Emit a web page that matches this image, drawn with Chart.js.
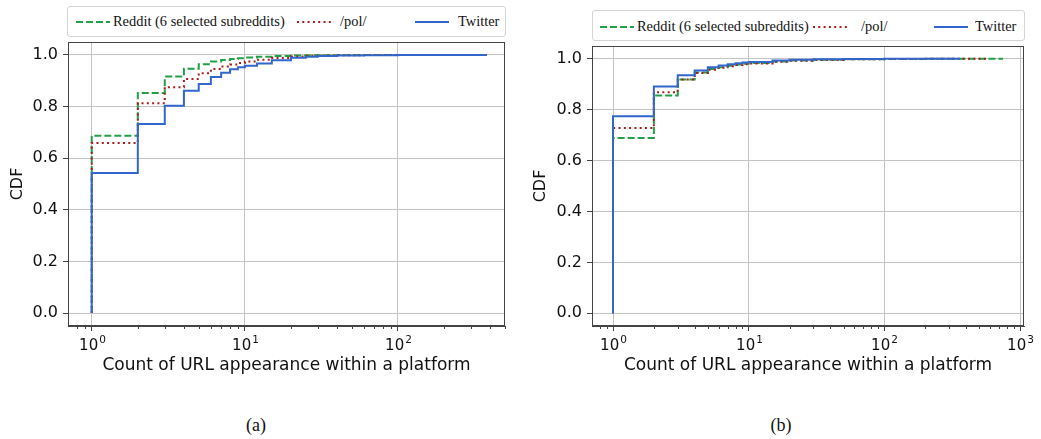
<!DOCTYPE html>
<html>
<head>
<meta charset="utf-8">
<script src="https://cdn.jsdelivr.net/npm/chart.js@4.4.1/dist/chart.umd.min.js"></script>
<style>
  body { margin: 0; background: #fff; width: 1041px; height: 439px; position: relative; overflow: hidden; }
  canvas { position: absolute; top: 40px; }
  .legend { position: absolute; border: 1px solid #d4d4d4; border-radius: 3px; box-sizing: border-box; background: #fff; }
  .lg-text { position: absolute; font-family: "Liberation Serif", serif; font-size: 15.5px; color: #111; white-space: nowrap; line-height: 1; transform: scaleX(0.93); transform-origin: left center; }
  .lg-handle { position: absolute; }
  .caption { position: absolute; top: 415px; font-family: "Liberation Serif", serif; font-size: 18px; color: #111; transform: translateX(-50%); }
</style>
</head>
<body>
<canvas id="chartA" width="520" height="340" style="left:0px"></canvas>
<canvas id="chartB" width="520" height="340" style="left:520px"></canvas>
<div class="caption" style="left:256px">(a)</div>
<div class="caption" style="left:781px">(b)</div>
<script>
// series shared by both panels
const seriesNames = ['Reddit (6 selected subreddits)', '/pol/', 'Twitter'];
const seriesColors = ['#22a045', '#aa1c1c', '#3366cc'];
const seriesDash = [[7, 3], [2, 3.3], []];

const yTicks = [0, 0.2, 0.4, 0.6, 0.8, 1.0];
const xTitle = 'Count of URL appearance within a platform';

// panel (a)
const countsA = [1, 1, 2, 3, 4, 5, 6, 7, 8, 9, 10, 12, 15, 20, 25, 30, 40, 60, 100, 200, 380];
const redditA = [0, 0.687, 0.852, 0.916, 0.946, 0.964, 0.974, 0.980, 0.984, 0.987, 0.990, 0.993, 0.996, 0.998, 0.999, 0.999, 1, 1, 1, 1, 1];
const polA = [0, 0.659, 0.813, 0.875, 0.907, 0.929, 0.945, 0.955, 0.963, 0.969, 0.974, 0.981, 0.988, 0.994, 0.997, 0.998, 0.999, 1, 1, 1, 1];
const twitterA = [0, 0.543, 0.732, 0.803, 0.861, 0.887, 0.914, 0.931, 0.944, 0.952, 0.958, 0.967, 0.979, 0.989, 0.993, 0.996, 0.998, 0.999, 1, 1, 1];

// panel (b)
const countsB = [1, 1, 2, 3, 4, 5, 6, 7, 8, 9, 10, 15, 20, 30, 50, 100, 200, 360, 575, 750];
const redditB = [0, 0.689, 0.856, 0.918, 0.946, 0.960, 0.967, 0.972, 0.977, 0.980, 0.983, 0.989, 0.993, 0.996, 0.998, 0.999, 1, 1, 1, 1];
const polB = [0, 0.728, 0.868, 0.918, 0.944, 0.957, 0.965, 0.970, 0.975, 0.978, 0.981, 0.988, 0.992, 0.995, 0.998, 0.999, 1, 1, 1, null];
const twitterB = [0, 0.774, 0.891, 0.935, 0.954, 0.967, 0.973, 0.978, 0.982, 0.985, 0.987, 0.993, 0.996, 0.998, 0.999, 1, 1, 1, null, null];

function logTicks(min, max) {
    const ticks = [];
    for (let e = -1; e <= 4; e++) {
        for (let m = 1; m <= 9; m++) {
            const v = m * Math.pow(10, e);
            if (v >= min && v <= max) ticks.push({ value: v, major: m === 1 });
        }
    }
    return ticks;
}

// frame on all four sides, short minor ticks and 10^n labels, like matplotlib
const framePlugin = {
    id: 'frame',
    afterDraw(chart) {
        const ctx = chart.ctx;
        const a = chart.chartArea;
        const xs = chart.scales.x;
        ctx.save();
        ctx.strokeStyle = '#444';
        ctx.lineWidth = 1;
        ctx.strokeRect(a.left + 0.5, a.top + 0.5, a.right - a.left - 1, a.bottom - a.top - 1);
        ctx.fillStyle = '#111';
        ctx.textBaseline = 'alphabetic';
        ctx.textAlign = 'left';
        xs.ticks.forEach(t => {
            const px = Math.round(xs.getPixelForValue(t.value)) + 0.5;
            if (!t.major) {
                ctx.beginPath();
                ctx.moveTo(px, a.bottom);
                ctx.lineTo(px, a.bottom + 3);
                ctx.stroke();
                return;
            }
            const exp = String(Math.round(Math.log10(t.value)));
            ctx.font = '15px "DejaVu Sans"';
            const w1 = ctx.measureText('10').width;
            ctx.font = '10.5px "DejaVu Sans"';
            const w2 = ctx.measureText(exp).width;
            const x0 = px - (w1 + w2 + 1) / 2;
            const base = a.bottom + 24;
            ctx.font = '15px "DejaVu Sans"';
            ctx.fillText('10', x0, base);
            ctx.font = '10.5px "DejaVu Sans"';
            ctx.fillText(exp, x0 + w1 + 1, base - 7);
        });
        ctx.restore();
    }
};

function makePanel(canvasId, counts, values, xMin, xMax, yAxisWidth, pad, titlePad) {
    const datasets = values.map((vals, i) => ({
        label: seriesNames[i],
        data: counts.map((c, j) => ({ x: c, y: vals[j] })),
        borderColor: seriesColors[i],
        borderDash: seriesDash[i],
        borderWidth: 2,
        stepped: true,
        pointRadius: 0,
        fill: false,
        spanGaps: false,
        order: 3 - i
    }));

    return new Chart(document.getElementById(canvasId), {
        type: 'line',
        data: { datasets: datasets },
        plugins: [framePlugin],
        options: {
            responsive: false,
            animation: false,
            layout: { padding: pad },
            plugins: { legend: { display: false }, tooltip: { enabled: false } },
            scales: {
                x: {
                    type: 'logarithmic',
                    min: xMin,
                    max: xMax,
                    afterBuildTicks: s => { s.ticks = logTicks(xMin, xMax); },
                    afterFit: s => { s.height = 54; s.paddingLeft = 0; s.paddingRight = 0; },
                    ticks: {
                        autoSkip: false,
                        maxRotation: 0,
                        padding: 3,
                        font: { family: 'DejaVu Sans', size: 15 },
                        callback: () => ''
                    },
                    grid: {
                        color: c => (c.tick && c.tick.major) ? '#c4c4c4' : 'rgba(0,0,0,0)',
                        tickColor: c => (c.tick && c.tick.major) ? '#444' : 'rgba(0,0,0,0)',
                        tickLength: 5
                    },
                    border: { color: '#444' },
                    title: {
                        display: true,
                        text: xTitle,
                        color: '#111',
                        font: { family: 'DejaVu Sans', size: 17 },
                        padding: { top: 0, bottom: 4 }
                    }
                },
                y: {
                    min: -0.05,
                    max: 1.05,
                    afterBuildTicks: s => { s.ticks = yTicks.map(v => ({ value: v })); },
                    afterFit: s => { s.width = yAxisWidth; s.paddingTop = 0; s.paddingBottom = 0; },
                    ticks: {
                        color: '#111',
                        padding: 5,
                        font: { family: 'DejaVu Sans', size: 16 },
                        callback: v => v.toFixed(1)
                    },
                    grid: { color: '#c4c4c4', tickColor: '#444', tickLength: 5 },
                    border: { color: '#444' },
                    title: {
                        display: true,
                        text: 'CDF',
                        color: '#111',
                        font: { family: 'DejaVu Sans', size: 16 },
                        padding: { top: titlePad, bottom: 0 }
                    }
                }
            }
        }
    });
}

function makeLegend(box, handleX, textX, cy) {
    const div = document.createElement('div');
    div.className = 'legend';
    div.style.left = box[0] + 'px';
    div.style.top = box[1] + 'px';
    div.style.width = (box[2] - box[0]) + 'px';
    div.style.height = (box[3] - box[1]) + 'px';
    document.body.appendChild(div);
    seriesNames.forEach((name, i) => {
        const svg = document.createElementNS('http://www.w3.org/2000/svg', 'svg');
        svg.setAttribute('class', 'lg-handle');
        svg.setAttribute('width', 34);
        svg.setAttribute('height', 6);
        svg.style.left = (handleX[i] - box[0]) + 'px';
        svg.style.top = (cy - box[1] - 3) + 'px';
        const line = document.createElementNS('http://www.w3.org/2000/svg', 'line');
        line.setAttribute('x1', 0); line.setAttribute('y1', 3);
        line.setAttribute('x2', 34); line.setAttribute('y2', 3);
        line.setAttribute('stroke', seriesColors[i]);
        line.setAttribute('stroke-width', 2);
        if (seriesDash[i].length) line.setAttribute('stroke-dasharray', seriesDash[i].join(' '));
        svg.appendChild(line);
        div.appendChild(svg);
        const span = document.createElement('span');
        span.className = 'lg-text';
        span.textContent = name;
        span.style.left = (textX[i] - box[0]) + 'px';
        span.style.top = (cy - box[1] - 9) + 'px';
        div.appendChild(span);
    });
}

makePanel('chartA', countsA, [redditA, polA, twitterA], 0.74, 500, 68, { top: 2, right: 15, left: 0, bottom: 0 }, 8);
makePanel('chartB', countsB, [redditB, polB, twitterB], 0.713, 1070, 72, { top: 6, right: 16, left: 0, bottom: 0 }, 11);

makeLegend([67, 6, 506, 37], [75, 296, 414], [112, 339, 457], 21);
makeLegend([592, 10, 1025, 41], [599, 812, 933], [636, 860, 974], 26);
</script>
</body>
</html>
